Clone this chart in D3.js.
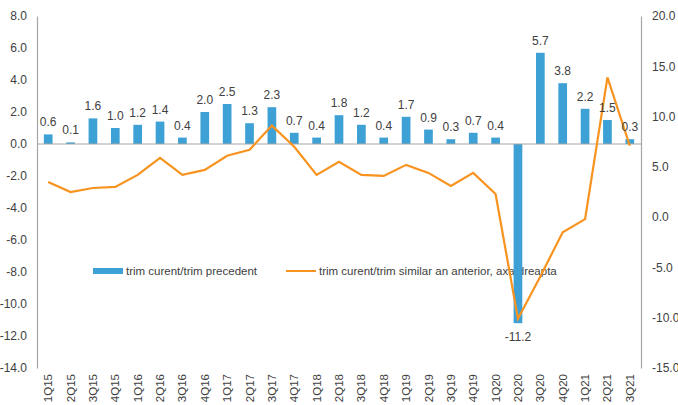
<!DOCTYPE html>
<html>
<head>
<meta charset="utf-8">
<script src="https://cdn.jsdelivr.net/npm/d3@7"></script>
<style>
  body { margin: 0; background: #fff; }
  text { font-family: "Liberation Sans", Arial, sans-serif; fill: #404040; }
</style>
</head>
<body>
<div id="chart"></div>
<script>
// quarters on the x axis
const quarters = ["1Q15","2Q15","3Q15","4Q15","1Q16","2Q16","3Q16","4Q16","1Q17","2Q17","3Q17","4Q17",
  "1Q18","2Q18","3Q18","4Q18","1Q19","2Q19","3Q19","4Q19","1Q20","2Q20","3Q20","4Q20","1Q21","2Q21","3Q21"];
// quarter on previous quarter (left axis)
const qoq = [0.6,0.1,1.6,1.0,1.2,1.4,0.4,2.0,2.5,1.3,2.3,0.7,0.4,1.8,1.2,0.4,1.7,0.9,0.3,0.7,0.4,-11.2,5.7,3.8,2.2,1.5,0.3];
// quarter on same quarter previous year (right axis)
const yoy = [3.5,2.5,2.9,3.0,4.2,5.9,4.2,4.7,6.1,6.7,9.1,7.0,4.2,5.5,4.2,4.1,5.2,4.4,3.1,4.4,2.3,-10.1,-5.9,-1.5,-0.2,13.9,7.1];
const leftTicks = [8,6,4,2,0,-2,-4,-6,-8,-10,-12,-14];
const rightTicks = [20,15,10,5,0,-5,-10,-15];
const legendNames = ["trim curent/trim precedent", "trim curent/trim similar an anterior, axa dreapta"];

const width = 678, height = 405;
const m = { left: 37, right: 641, top: 16, bottom: 368 };
const fmt = d => d.toFixed(1); // plain hyphen for negatives, as in the original

const svg = d3.select("#chart").append("svg")
  .attr("width", width).attr("height", height);

const yL = d3.scaleLinear().domain([-14, 8]).range([m.bottom, m.top]);
const yR = d3.scaleLinear().domain([-15, 20]).range([m.bottom, m.top]);
const x = d3.scalePoint().domain(quarters).range([m.left, m.right]).padding(0.5);
const barW = 8.7;

// axes
const axisL = svg.append("g").attr("transform", `translate(${m.left},0)`)
  .call(d3.axisLeft(yL).tickValues(leftTicks).tickFormat(fmt).tickSize(0).tickPadding(10));
const axisR = svg.append("g").attr("transform", `translate(${m.right},0)`)
  .call(d3.axisRight(yR).tickValues(rightTicks).tickFormat(fmt).tickSize(0).tickPadding(11));
[axisL, axisR].forEach(a => {
  a.select(".domain").attr("stroke", "#a6a6a6").attr("stroke-width", 1.2);
  a.selectAll("text").attr("font-size", 12).attr("fill", "#404040")
    .attr("font-family", "Liberation Sans, Arial, sans-serif");
});

// x labels
svg.append("g").selectAll("text").data(quarters).enter().append("text")
  .attr("transform", d => `translate(${x(d)},${m.bottom + 6}) rotate(-90)`)
  .attr("text-anchor", "end").attr("dy", "0.35em").attr("font-size", 11.5)
  .text(d => d);

// legend (drawn under the series)
const lg = svg.append("g");
lg.append("rect").attr("x", 93).attr("y", 268).attr("width", 30).attr("height", 6).attr("fill", "#3ea1d5");
lg.append("text").attr("x", 126).attr("y", 275).attr("font-size", 11.5).text(legendNames[0]);
lg.append("line").attr("x1", 286).attr("x2", 316).attr("y1", 271).attr("y2", 271)
  .attr("stroke", "#f7931e").attr("stroke-width", 2);
lg.append("text").attr("x", 319).attr("y", 275).attr("font-size", 11.5).text(legendNames[1]);

// bars
svg.append("g").selectAll("rect").data(qoq).enter().append("rect")
  .attr("x", (d, i) => x(quarters[i]) - barW / 2)
  .attr("width", barW)
  .attr("y", d => yL(Math.max(0, d)))
  .attr("height", d => Math.abs(yL(d) - yL(0)))
  .attr("fill", "#3ea1d5");

// zero line
svg.append("line").attr("x1", m.left).attr("x2", m.right).attr("y1", yL(0)).attr("y2", yL(0))
  .attr("stroke", "#a6a6a6").attr("stroke-width", 1.2);

// line series
const line = d3.line().x((d, i) => x(quarters[i])).y(d => yR(d));
svg.append("path").datum(yoy).attr("d", line)
  .attr("fill", "none").attr("stroke", "#f7931e").attr("stroke-width", 2.2);

// bar labels
svg.append("g").selectAll("text").data(qoq).enter().append("text")
  .attr("x", (d, i) => x(quarters[i]))
  .attr("y", d => d >= 0 ? yL(d) - 8 : yL(d) + 18)
  .attr("text-anchor", "middle").attr("font-size", 12)
  .text(fmt);
</script>
</body>
</html>
